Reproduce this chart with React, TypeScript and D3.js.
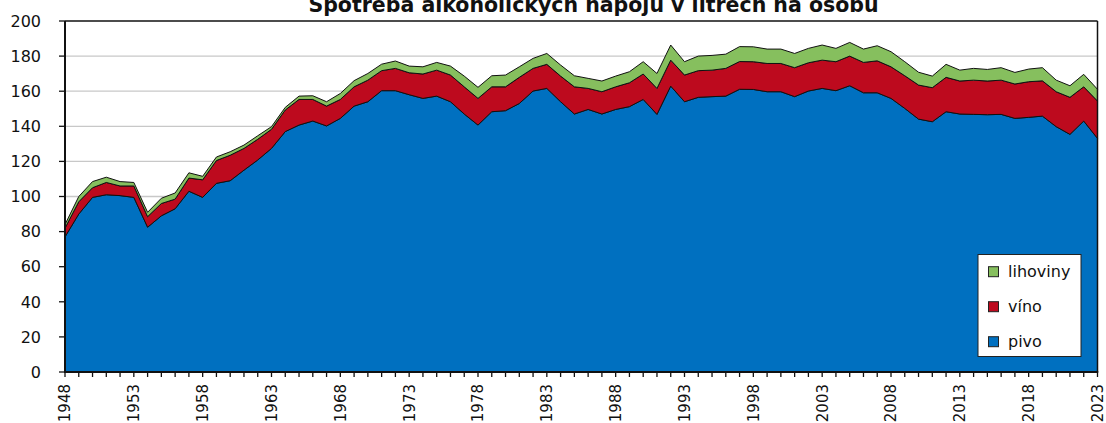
import React from "react";
import * as d3 from "d3";

const years: number[] = d3.range(1948, 2024);

const pivo: number[] = [
  77, 90, 99.5, 101, 100.5, 99.5, 82.5, 89, 93, 103, 99.5, 107.5, 109, 115, 120.8, 127.4, 137, 140.7, 143, 140.2,
  144.5, 151.5, 154, 160.3, 160.3, 158, 155.9, 157.2, 154, 147, 140.7, 148.3, 148.9, 153, 160.1, 161.6, 154, 147,
  149.6, 147, 149.6, 151.2, 155.3, 146.8, 162.9, 154, 156.5, 156.9, 157.2, 161.1, 161, 159.7, 159.7, 156.9, 160.1,
  161.6, 160.3, 163.1, 159.1, 159.1, 155.9, 150.2, 144.1, 142.6, 148.3, 147, 146.8, 146.6, 146.8, 144.5, 145.1,
  145.8, 139.8, 135.4, 143, 133.1,
];
const vino: number[] = [
  5, 7, 5.5, 7, 5.5, 6.5, 6, 7, 5.5, 7.5, 10, 13, 14.5, 12.4, 11.8, 10.9, 12.3, 14.6, 12.3, 11.3,
  10.8, 11, 12.3, 11.4, 12.7, 12.5, 13.9, 14.8, 15.2, 15.5, 15.2, 14.2, 13.6, 14.9, 12.9, 13.7, 14.6, 15.5,
  12, 12.7, 12.9, 13.6, 14.5, 14.8, 14.8, 15.2, 15.2, 15.1, 15.8, 15.8, 15.8, 16.1, 16.1, 16.5, 16.1,
  16.1, 16.5, 16.9, 17.3, 18.2, 18, 18.6, 19.4, 19.4, 19.6, 18.8, 19.5, 19.2, 19.5, 19.6, 20.3,
  20.1, 19.9, 21.1, 19.5, 21.3,
];
const lihoviny: number[] = [
  2, 3, 3.5, 3, 2.5, 2, 2.5, 3, 3.5, 3, 2, 2, 2, 1.9, 2, 1.5, 1.5, 1.9, 2.1, 2.5,
  3.4, 3.5, 3.8, 3.7, 4.2, 3.8, 4.1, 4.4, 5.1, 6.1, 6.3, 6.3, 6.7, 6, 5.7, 6.2, 6.3, 6.3,
  5.7, 6.1, 6.1, 6.3, 7, 8.5, 8.6, 7.6, 8.3, 8.4, 8.1, 8.5, 8.5, 8.2, 8.2, 8.1, 8.2,
  8.6, 7.6, 7.8, 7.6, 8.6, 8.6, 8, 7.3, 6.6, 7.4, 6.2, 6.7, 6.6, 7.1, 6.6, 7.2,
  7.5, 6.6, 6.6, 7.1, 6.7,
];

const seriesKeys = ["pivo", "vino", "lihoviny"];
const seriesLabels: Record<string, string> = { pivo: "pivo", vino: "víno", lihoviny: "lihoviny" };
const seriesColors: Record<string, string> = { pivo: "#0070C0", vino: "#BD0A1E", lihoviny: "#86BF5E" };
const yTicks: number[] = [0, 20, 40, 60, 80, 100, 120, 140, 160, 180, 200];
const xLabelYears: number[] = [1948, 1953, 1958, 1963, 1968, 1973, 1978, 1983, 1988, 1993, 1998, 2003, 2008, 2013, 2018, 2023];
const title = "Spotřeba alkoholických nápojů v litrech na osobu";
const legendOrder = ["lihoviny", "vino", "pivo"];

const W = 1106;
const H = 423;
const left = 65;
const right = 1097.5;
const top = 21;
const bottom = 372;
const font = "'DejaVu Sans', Verdana, sans-serif";

export default function App() {
  const rows = years.map((yr, i) => ({ year: yr, pivo: pivo[i], vino: vino[i], lihoviny: lihoviny[i] }));
  const x = d3.scaleLinear().domain([1948, 2023]).range([left, right]);
  const y = d3.scaleLinear().domain([0, 200]).range([bottom, top]);
  const stacked = d3.stack<any>().keys(seriesKeys)(rows);
  const area = d3
    .area<any>()
    .x((d) => x(d.data.year))
    .y0((d) => y(d[0]))
    .y1((d) => y(d[1]));

  const legX = 978;
  const legY = 254.5;
  const legW = 103;
  const legH = 102;

  return (
    <svg width={W} height={H} style={{ position: "absolute", left: 0, top: 0 }} fontFamily={font}>
      <rect x={0} y={0} width={W} height={H} fill="#fff" />
      {yTicks.slice(1, -1).map((t) => (
        <line key={"g" + t} x1={left} x2={right} y1={y(t)} y2={y(t)} stroke="#c8c8c8" strokeWidth={1.3} />
      ))}
      {stacked.map((s) => (
        <path key={s.key} d={area(s) || ""} fill={seriesColors[s.key]} stroke="#111" strokeWidth={1} strokeLinejoin="round" />
      ))}
      {/* frame */}
      <line x1={left} x2={right} y1={top} y2={top} stroke="#111" strokeWidth={1.5} />
      <line x1={right} x2={right} y1={top} y2={bottom} stroke="#111" strokeWidth={1.5} />
      <line x1={left} x2={left} y1={top} y2={bottom + 1} stroke="#111" strokeWidth={2} />
      <line x1={left - 1} x2={right + 0.75} y1={bottom} y2={bottom} stroke="#111" strokeWidth={2} />
      {/* y ticks */}
      {yTicks.map((t) => (
        <g key={"y" + t}>
          <line x1={left - 6} x2={left} y1={y(t)} y2={y(t)} stroke="#111" strokeWidth={1.3} />
          <text x={41} y={y(t)} dy="0.36em" textAnchor="end" fontSize={16} fill="#111">
            {t}
          </text>
        </g>
      ))}
      {/* x ticks */}
      {years.map((yr) => (
        <line key={"xt" + yr} x1={x(yr)} x2={x(yr)} y1={bottom} y2={bottom + 5} stroke="#111" strokeWidth={1.3} />
      ))}
      {xLabelYears.map((yr) => (
        <text
          key={"xl" + yr}
          transform={`translate(${x(yr)},${384}) rotate(-90)`}
          textAnchor="end"
          dy="0.36em"
          fontSize={15}
          fill="#111"
        >
          {yr}
        </text>
      ))}
      {/* title */}
      <text x={593.5} y={12} textAnchor="middle" fontSize={20.5} fontWeight="bold" fill="#111">
        {title}
      </text>
      {/* legend */}
      <rect x={legX} y={legY} width={legW} height={legH} fill="#fff" stroke="#222" strokeWidth={1} />
      {legendOrder.map((k, i) => {
        const cy = 271.7 + i * 35;
        return (
          <g key={"lg" + k}>
            <rect x={988.5} y={cy - 5} width={10} height={10} fill={seriesColors[k]} stroke="#222" strokeWidth={1} />
            <text x={1008} y={cy} dy="0.36em" fontSize={16} fill="#111">
              {seriesLabels[k]}
            </text>
          </g>
        );
      })}
    </svg>
  );
}
